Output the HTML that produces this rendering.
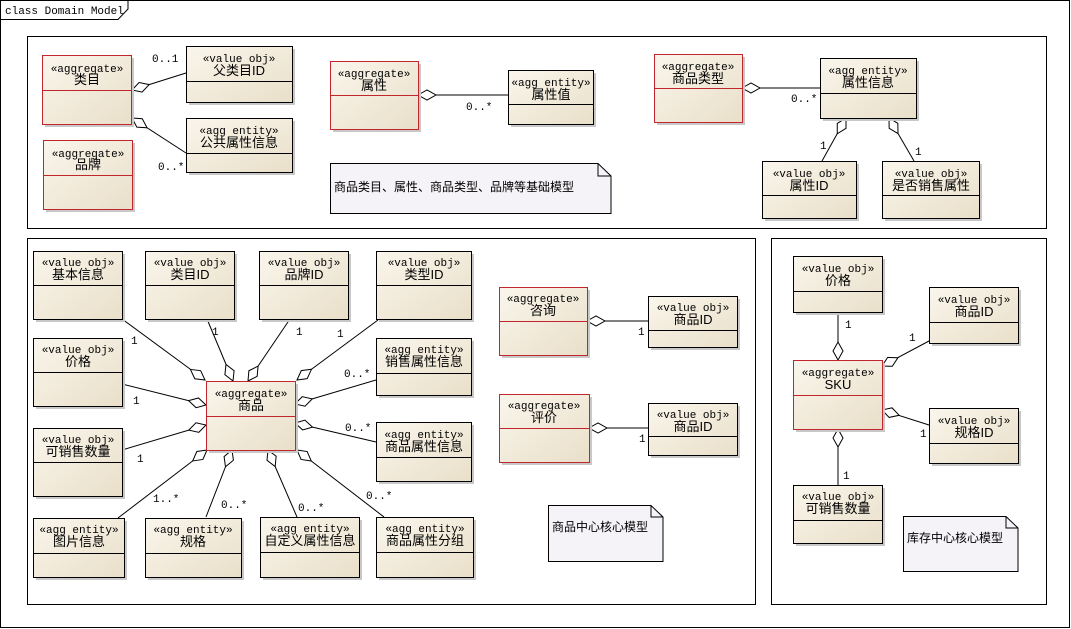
<!DOCTYPE html>
<html><head><meta charset="utf-8"><style>
html,body{margin:0;padding:0;background:#fff;}
svg{display:block;}
.st{font-family:"Liberation Mono","Noto Sans CJK SC",monospace;font-size:11px;fill:#000;}
.nm{font-family:"Liberation Sans","Noto Sans CJK SC",sans-serif;font-size:13px;fill:#000;}
.lb{font-family:"Liberation Mono",monospace;font-size:11px;fill:#000;}
.nt{font-family:"Liberation Sans","Noto Sans CJK SC",sans-serif;font-size:12px;fill:#000;}
</style></head><body>
<svg width="1071" height="629" viewBox="0 0 1071 629" xmlns="http://www.w3.org/2000/svg">
<defs>
<linearGradient id="g" x1="0" y1="0" x2="1" y2="1">
<stop offset="0" stop-color="#faf6ec"/><stop offset="1" stop-color="#e9dfc9"/>
</linearGradient>
<polygon id="d" points="0,0 9,-5 18,0 9,5" fill="#fff" stroke="#000"/>
</defs>
<rect x="0.5" y="0.5" width="1069" height="627" fill="#fff" stroke="#000"/>
<path d="M0.5 19.5 H118 L128 9 V0.5" fill="none" stroke="#000"/>
<text x="5" y="14" class="lb">class Domain Model</text>

<rect x="27.5" y="36.5" width="1019" height="192" fill="none" stroke="#000"/>
<rect x="27.5" y="238.5" width="728" height="366" fill="none" stroke="#000"/>
<rect x="771.5" y="238.5" width="275" height="366" fill="none" stroke="#000"/>

<g stroke="#000" stroke-width="1" fill="none">
<line x1="132" y1="90" x2="186" y2="73"/>
<line x1="132" y1="118" x2="186" y2="153"/>
<line x1="418" y1="95" x2="508" y2="95"/>
<line x1="742" y1="88" x2="820" y2="88"/>
<line x1="846" y1="118" x2="822" y2="161"/>
<line x1="889" y1="118" x2="914" y2="161"/>
<line x1="122" y1="319" x2="205" y2="380"/>
<line x1="207" y1="319" x2="233" y2="381"/>
<line x1="290" y1="319" x2="248" y2="381"/>
<line x1="378" y1="320" x2="297" y2="380"/>
<line x1="122" y1="384" x2="206" y2="405"/>
<line x1="376" y1="380" x2="295" y2="404"/>
<line x1="122" y1="450" x2="206" y2="425"/>
<line x1="376" y1="442" x2="295" y2="423"/>
<line x1="118" y1="518" x2="207" y2="450"/>
<line x1="206" y1="517" x2="232" y2="450"/>
<line x1="297" y1="517" x2="268" y2="450"/>
<line x1="384" y1="517" x2="297" y2="450"/>
<line x1="587" y1="321" x2="648" y2="321"/>
<line x1="589" y1="428" x2="648" y2="428"/>
<line x1="838" y1="312" x2="838" y2="360"/>
<line x1="929" y1="341" x2="882" y2="366"/>
<line x1="929" y1="425" x2="882" y2="410"/>
<line x1="838" y1="485" x2="838" y2="429"/>
</g>
<g>
<use href="#d" transform="translate(132,90) rotate(-17.5)"/>
<use href="#d" transform="translate(132,118) rotate(33)"/>
<use href="#d" transform="translate(418,95)"/>
<use href="#d" transform="translate(742,88)"/>
<use href="#d" transform="translate(846,118) rotate(119)"/>
<use href="#d" transform="translate(889,118) rotate(60)"/>
<use href="#d" transform="translate(205,380) rotate(216)"/>
<use href="#d" transform="translate(233,381) rotate(247)"/>
<use href="#d" transform="translate(248,381) rotate(-56)"/>
<use href="#d" transform="translate(297,380) rotate(-36.5)"/>
<use href="#d" transform="translate(206,405) rotate(194)"/>
<use href="#d" transform="translate(295,404) rotate(-16.5)"/>
<use href="#d" transform="translate(206,425) rotate(163.4)"/>
<use href="#d" transform="translate(295,423) rotate(13.2)"/>
<use href="#d" transform="translate(207,450) rotate(142.6)"/>
<use href="#d" transform="translate(232,450) rotate(111.2)"/>
<use href="#d" transform="translate(268,450) rotate(66.6)"/>
<use href="#d" transform="translate(297,450) rotate(37.6)"/>
<use href="#d" transform="translate(587,321)"/>
<use href="#d" transform="translate(589,428)"/>
<use href="#d" transform="translate(838,360) rotate(-90)"/>
<use href="#d" transform="translate(882,366) rotate(-27.5)"/>
<use href="#d" transform="translate(882,410) rotate(17)"/>
<use href="#d" transform="translate(838,429) rotate(90)"/>
</g>

<g class="lb">
<text x="152" y="62" class="lb">0..1</text>
<text x="158" y="170" class="lb">0..*</text>
<text x="466" y="110" class="lb">0..*</text>
<text x="791" y="102" class="lb">0..*</text>
<text x="820" y="149" class="lb">1</text>
<text x="915" y="155" class="lb">1</text>
<text x="131" y="344" class="lb">1</text>
<text x="212" y="335" class="lb">1</text>
<text x="296" y="335" class="lb">1</text>
<text x="337" y="337" class="lb">1</text>
<text x="133" y="404" class="lb">1</text>
<text x="344" y="377" class="lb">0..*</text>
<text x="137" y="462" class="lb">1</text>
<text x="345" y="431" class="lb">0..*</text>
<text x="153" y="502" class="lb">1..*</text>
<text x="221" y="508" class="lb">0..*</text>
<text x="298" y="511" class="lb">0..*</text>
<text x="366" y="499" class="lb">0..*</text>
<text x="638" y="335" class="lb">1</text>
<text x="639" y="442" class="lb">1</text>
<text x="845" y="328" class="lb">1</text>
<text x="909" y="341" class="lb">1</text>
<text x="920" y="437" class="lb">1</text>
<text x="843" y="479" class="lb">1</text>
</g>

<g fill="#f6f3f8" stroke="#000">
<path d="M330.5 163.5 H598 L611 176 V213.5 H330.5 Z"/><path d="M598 163.5 V176 H611" fill="none"/>
<path d="M548.5 505.5 H651 L663 517 V561.5 H548.5 Z"/><path d="M651 505.5 V517 H663" fill="none"/>
<path d="M903.5 516.5 H1006 L1018 528 V571.5 H903.5 Z"/><path d="M1006 516.5 V528 H1018" fill="none"/>
</g>
<text x="334" y="191" class="nt">商品类目、属性、商品类型、品牌等基础模型</text>
<text x="552" y="531" class="nt">商品中心核心模型</text>
<text x="907" y="542" class="nt">库存中心核心模型</text>

<g>
<g><rect x="45" y="58" width="89" height="69" fill="#c8c8c8"/><rect x="42.5" y="55.5" width="89" height="69" fill="url(#g)" stroke="#c0262c"/><line x1="42.5" y1="90.5" x2="131.5" y2="90.5" stroke="#c0262c"/><text x="87" y="72" text-anchor="middle" class="st">«aggregate»</text><text x="87" y="84" text-anchor="middle" class="nm">类目</text></g>
<g><rect x="46" y="143" width="89" height="69" fill="#c8c8c8"/><rect x="43.5" y="140.5" width="89" height="69" fill="url(#g)" stroke="#c0262c"/><line x1="43.5" y1="175.5" x2="132.5" y2="175.5" stroke="#c0262c"/><text x="88" y="157" text-anchor="middle" class="st">«aggregate»</text><text x="88" y="169" text-anchor="middle" class="nm">品牌</text></g>
<g><rect x="189" y="49" width="106" height="56" fill="#c8c8c8"/><rect x="186.5" y="46.5" width="106" height="56" fill="url(#g)" stroke="#000"/><line x1="186.5" y1="81.5" x2="292.5" y2="81.5" stroke="#000"/><text x="239" y="62" text-anchor="middle" class="st">«value obj»</text><text x="239" y="75" text-anchor="middle" class="nm">父类目ID</text></g>
<g><rect x="189" y="121" width="106" height="54" fill="#c8c8c8"/><rect x="186.5" y="118.5" width="106" height="54" fill="url(#g)" stroke="#000"/><line x1="186.5" y1="153.5" x2="292.5" y2="153.5" stroke="#000"/><text x="239" y="134" text-anchor="middle" class="st">«agg entity»</text><text x="239" y="147" text-anchor="middle" class="nm">公共属性信息</text></g>
<g><rect x="333" y="64" width="88" height="68" fill="#c8c8c8"/><rect x="330.5" y="61.5" width="88" height="68" fill="url(#g)" stroke="#c0262c"/><line x1="330.5" y1="95.5" x2="418.5" y2="95.5" stroke="#c0262c"/><text x="374" y="77" text-anchor="middle" class="st">«aggregate»</text><text x="374" y="90" text-anchor="middle" class="nm">属性</text></g>
<g><rect x="511" y="73" width="85" height="54" fill="#c8c8c8"/><rect x="508.5" y="70.5" width="85" height="54" fill="url(#g)" stroke="#000"/><line x1="508.5" y1="104.5" x2="593.5" y2="104.5" stroke="#000"/><text x="551" y="86" text-anchor="middle" class="st">«agg entity»</text><text x="551" y="99" text-anchor="middle" class="nm">属性值</text></g>
<g><rect x="657" y="57" width="88" height="68" fill="#c8c8c8"/><rect x="654.5" y="54.5" width="88" height="68" fill="url(#g)" stroke="#c0262c"/><line x1="654.5" y1="88.5" x2="742.5" y2="88.5" stroke="#c0262c"/><text x="698" y="70" text-anchor="middle" class="st">«aggregate»</text><text x="698" y="83" text-anchor="middle" class="nm">商品类型</text></g>
<g><rect x="823" y="61" width="96" height="60" fill="#c8c8c8"/><rect x="820.5" y="58.5" width="96" height="60" fill="url(#g)" stroke="#000"/><line x1="820.5" y1="93.5" x2="916.5" y2="93.5" stroke="#000"/><text x="868" y="74" text-anchor="middle" class="st">«agg entity»</text><text x="868" y="87" text-anchor="middle" class="nm">属性信息</text></g>
<g><rect x="765" y="164" width="94" height="57" fill="#c8c8c8"/><rect x="762.5" y="161.5" width="94" height="57" fill="url(#g)" stroke="#000"/><line x1="762.5" y1="195.5" x2="856.5" y2="195.5" stroke="#000"/><text x="809" y="177" text-anchor="middle" class="st">«value obj»</text><text x="809" y="190" text-anchor="middle" class="nm">属性ID</text></g>
<g><rect x="885" y="164" width="97" height="57" fill="#c8c8c8"/><rect x="882.5" y="161.5" width="97" height="57" fill="url(#g)" stroke="#000"/><line x1="882.5" y1="195.5" x2="979.5" y2="195.5" stroke="#000"/><text x="931" y="177" text-anchor="middle" class="st">«value obj»</text><text x="931" y="190" text-anchor="middle" class="nm">是否销售属性</text></g>

<g><rect x="36" y="254" width="89" height="68" fill="#c8c8c8"/><rect x="33.5" y="251.5" width="89" height="68" fill="url(#g)" stroke="#000"/><line x1="33.5" y1="285.5" x2="122.5" y2="285.5" stroke="#000"/><text x="78" y="266" text-anchor="middle" class="st">«value obj»</text><text x="78" y="279" text-anchor="middle" class="nm">基本信息</text></g>
<g><rect x="148" y="254" width="89" height="68" fill="#c8c8c8"/><rect x="145.5" y="251.5" width="89" height="68" fill="url(#g)" stroke="#000"/><line x1="145.5" y1="285.5" x2="234.5" y2="285.5" stroke="#000"/><text x="190" y="266" text-anchor="middle" class="st">«value obj»</text><text x="190" y="279" text-anchor="middle" class="nm">类目ID</text></g>
<g><rect x="262" y="254" width="89" height="68" fill="#c8c8c8"/><rect x="259.5" y="251.5" width="89" height="68" fill="url(#g)" stroke="#000"/><line x1="259.5" y1="285.5" x2="348.5" y2="285.5" stroke="#000"/><text x="304" y="266" text-anchor="middle" class="st">«value obj»</text><text x="304" y="279" text-anchor="middle" class="nm">品牌ID</text></g>
<g><rect x="379" y="254" width="95" height="68" fill="#c8c8c8"/><rect x="376.5" y="251.5" width="95" height="68" fill="url(#g)" stroke="#000"/><line x1="376.5" y1="285.5" x2="471.5" y2="285.5" stroke="#000"/><text x="424" y="266" text-anchor="middle" class="st">«value obj»</text><text x="424" y="279" text-anchor="middle" class="nm">类型ID</text></g>
<g><rect x="36" y="341" width="89" height="68" fill="#c8c8c8"/><rect x="33.5" y="338.5" width="89" height="68" fill="url(#g)" stroke="#000"/><line x1="33.5" y1="372.5" x2="122.5" y2="372.5" stroke="#000"/><text x="78" y="353" text-anchor="middle" class="st">«value obj»</text><text x="78" y="366" text-anchor="middle" class="nm">价格</text></g>
<g><rect x="209" y="384" width="89" height="69" fill="#c8c8c8"/><rect x="206.5" y="381.5" width="89" height="69" fill="url(#g)" stroke="#c0262c"/><line x1="206.5" y1="416.5" x2="295.5" y2="416.5" stroke="#c0262c"/><text x="251" y="397" text-anchor="middle" class="st">«aggregate»</text><text x="251" y="410" text-anchor="middle" class="nm">商品</text></g>
<g><rect x="379" y="341" width="95" height="57" fill="#c8c8c8"/><rect x="376.5" y="338.5" width="95" height="57" fill="url(#g)" stroke="#000"/><line x1="376.5" y1="373.5" x2="471.5" y2="373.5" stroke="#000"/><text x="424" y="353" text-anchor="middle" class="st">«agg entity»</text><text x="424" y="366" text-anchor="middle" class="nm">销售属性信息</text></g>
<g><rect x="36" y="431" width="89" height="68" fill="#c8c8c8"/><rect x="33.5" y="428.5" width="89" height="68" fill="url(#g)" stroke="#000"/><line x1="33.5" y1="462.5" x2="122.5" y2="462.5" stroke="#000"/><text x="78" y="443" text-anchor="middle" class="st">«value obj»</text><text x="78" y="456" text-anchor="middle" class="nm">可销售数量</text></g>
<g><rect x="379" y="425" width="95" height="59" fill="#c8c8c8"/><rect x="376.5" y="422.5" width="95" height="59" fill="url(#g)" stroke="#000"/><line x1="376.5" y1="457.5" x2="471.5" y2="457.5" stroke="#000"/><text x="424" y="438" text-anchor="middle" class="st">«agg entity»</text><text x="424" y="451" text-anchor="middle" class="nm">商品属性信息</text></g>
<g><rect x="36" y="521" width="91" height="59" fill="#c8c8c8"/><rect x="33.5" y="518.5" width="91" height="59" fill="url(#g)" stroke="#000"/><line x1="33.5" y1="553.5" x2="124.5" y2="553.5" stroke="#000"/><text x="79" y="533" text-anchor="middle" class="st">«agg entity»</text><text x="79" y="546" text-anchor="middle" class="nm">图片信息</text></g>
<g><rect x="148" y="521" width="96" height="59" fill="#c8c8c8"/><rect x="145.5" y="518.5" width="96" height="59" fill="url(#g)" stroke="#000"/><line x1="145.5" y1="553.5" x2="241.5" y2="553.5" stroke="#000"/><text x="193" y="533" text-anchor="middle" class="st">«agg entity»</text><text x="193" y="546" text-anchor="middle" class="nm">规格</text></g>
<g><rect x="263" y="520" width="99" height="60" fill="#c8c8c8"/><rect x="260.5" y="517.5" width="99" height="60" fill="url(#g)" stroke="#000"/><line x1="260.5" y1="552.5" x2="359.5" y2="552.5" stroke="#000"/><text x="310" y="532" text-anchor="middle" class="st">«agg entity»</text><text x="310" y="545" text-anchor="middle" class="nm">自定义属性信息</text></g>
<g><rect x="379" y="520" width="97" height="60" fill="#c8c8c8"/><rect x="376.5" y="517.5" width="97" height="60" fill="url(#g)" stroke="#000"/><line x1="376.5" y1="552.5" x2="473.5" y2="552.5" stroke="#000"/><text x="425" y="532" text-anchor="middle" class="st">«agg entity»</text><text x="425" y="545" text-anchor="middle" class="nm">商品属性分组</text></g>
<g><rect x="502" y="290" width="88" height="68" fill="#c8c8c8"/><rect x="499.5" y="287.5" width="88" height="68" fill="url(#g)" stroke="#c0262c"/><line x1="499.5" y1="321.5" x2="587.5" y2="321.5" stroke="#c0262c"/><text x="543" y="302" text-anchor="middle" class="st">«aggregate»</text><text x="543" y="315" text-anchor="middle" class="nm">咨询</text></g>
<g><rect x="651" y="299" width="89" height="51" fill="#c8c8c8"/><rect x="648.5" y="296.5" width="89" height="51" fill="url(#g)" stroke="#000"/><line x1="648.5" y1="330.5" x2="737.5" y2="330.5" stroke="#000"/><text x="693" y="311" text-anchor="middle" class="st">«value obj»</text><text x="693" y="324" text-anchor="middle" class="nm">商品ID</text></g>
<g><rect x="502" y="397" width="90" height="68" fill="#c8c8c8"/><rect x="499.5" y="394.5" width="90" height="68" fill="url(#g)" stroke="#c0262c"/><line x1="499.5" y1="428.5" x2="589.5" y2="428.5" stroke="#c0262c"/><text x="544" y="409" text-anchor="middle" class="st">«aggregate»</text><text x="544" y="422" text-anchor="middle" class="nm">评价</text></g>
<g><rect x="651" y="406" width="89" height="52" fill="#c8c8c8"/><rect x="648.5" y="403.5" width="89" height="52" fill="url(#g)" stroke="#000"/><line x1="648.5" y1="436.5" x2="737.5" y2="436.5" stroke="#000"/><text x="693" y="418" text-anchor="middle" class="st">«value obj»</text><text x="693" y="431" text-anchor="middle" class="nm">商品ID</text></g>

<g><rect x="796" y="259" width="89" height="56" fill="#c8c8c8"/><rect x="793.5" y="256.5" width="89" height="56" fill="url(#g)" stroke="#000"/><line x1="793.5" y1="291.5" x2="882.5" y2="291.5" stroke="#000"/><text x="838" y="272" text-anchor="middle" class="st">«value obj»</text><text x="838" y="285" text-anchor="middle" class="nm">价格</text></g>
<g><rect x="932" y="290" width="89" height="56" fill="#c8c8c8"/><rect x="929.5" y="287.5" width="89" height="56" fill="url(#g)" stroke="#000"/><line x1="929.5" y1="322.5" x2="1018.5" y2="322.5" stroke="#000"/><text x="974" y="303" text-anchor="middle" class="st">«value obj»</text><text x="974" y="316" text-anchor="middle" class="nm">商品ID</text></g>
<g><rect x="796" y="363" width="89" height="69" fill="#c8c8c8"/><rect x="793.5" y="360.5" width="89" height="69" fill="url(#g)" stroke="#c0262c"/><line x1="793.5" y1="395.5" x2="882.5" y2="395.5" stroke="#c0262c"/><text x="838" y="376" text-anchor="middle" class="st">«aggregate»</text><text x="838" y="389" text-anchor="middle" class="nm">SKU</text></g>
<g><rect x="932" y="411" width="89" height="55" fill="#c8c8c8"/><rect x="929.5" y="408.5" width="89" height="55" fill="url(#g)" stroke="#000"/><line x1="929.5" y1="443.5" x2="1018.5" y2="443.5" stroke="#000"/><text x="974" y="424" text-anchor="middle" class="st">«value obj»</text><text x="974" y="437" text-anchor="middle" class="nm">规格ID</text></g>
<g><rect x="796" y="488" width="89" height="58" fill="#c8c8c8"/><rect x="793.5" y="485.5" width="89" height="58" fill="url(#g)" stroke="#000"/><line x1="793.5" y1="520.5" x2="882.5" y2="520.5" stroke="#000"/><text x="838" y="500" text-anchor="middle" class="st">«value obj»</text><text x="838" y="513" text-anchor="middle" class="nm">可销售数量</text></g>
</g>
</svg>
</body></html>
